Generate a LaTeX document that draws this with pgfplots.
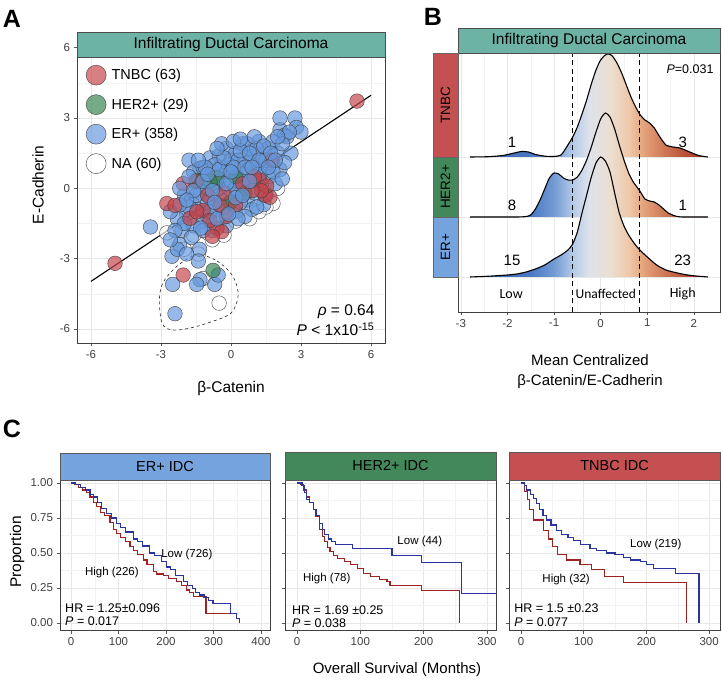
\documentclass[border=0pt]{standalone}
\usepackage{pgfplots}
\pgfplotsset{compat=1.18}
\usepackage{fontspec}
\setmainfont{Liberation Sans}
\newfontfamily\calibri{Carlito}
\newcommand{\fs}[1]{\fontsize{#1bp}{#1bp}\selectfont}

\definecolor{stripteal}{RGB}{108,178,165}
\definecolor{tnbc}{RGB}{198,66,72}
\definecolor{her}{RGB}{52,132,78}
\definecolor{erb}{RGB}{100,152,222}
\definecolor{stripred}{RGB}{196,80,82}
\definecolor{stripgreen}{RGB}{66,136,90}
\definecolor{stripblue}{RGB}{116,163,222}
\definecolor{kmblue}{RGB}{42,52,158}
\definecolor{kmred}{RGB}{158,34,34}
\definecolor{rb0}{RGB}{55,95,175}
\definecolor{rb1}{RGB}{75,120,195}
\definecolor{rb2}{RGB}{115,155,212}
\definecolor{rb3}{RGB}{180,202,232}
\definecolor{rb4}{RGB}{222,226,234}
\definecolor{rb5}{RGB}{236,222,208}
\definecolor{rb6}{RGB}{238,200,170}
\definecolor{rb7}{RGB}{228,165,125}
\definecolor{rb8}{RGB}{210,125,90}
\definecolor{rb9}{RGB}{185,80,55}
\definecolor{rb10}{RGB}{160,45,35}

\pgfdeclarehorizontalshading{ridge}{100bp}{color(0bp)=(rb0); color(25bp)=(rb0); color(37.75bp)=(rb1); color(42.65bp)=(rb2); color(46.57bp)=(rb3); color(50bp)=(rb4); color(54.41bp)=(rb5); color(58.33bp)=(rb6); color(61.27bp)=(rb7); color(65.2bp)=(rb8); color(70.1bp)=(rb9); color(75bp)=(rb10); color(100bp)=(rb10)}

\pgfplotsset{
  pt/.style={only marks, mark=*, mark size=7.3bp, mark options={fill=#1, fill opacity=0.68, draw=black!75, draw opacity=0.85, line width=0.5bp}},
  base/.style={scale only axis, grid=both,
    major grid style={black!9, line width=0.6bp},
    minor grid style={black!5, line width=0.4bp},
    axis line style={black!75, line width=0.8bp},
    tick pos=left, tick align=outside, major tick length=3.5bp, minor tick length=0pt,
    tick style={black!65, line width=0.6bp},
    ticklabel style={font=\fs{11.5}, text=black!75},
    /pgf/number format/assume math mode=true},
  km/.style={base, height=150bp, ymin=-0.05, ymax=1.021,
    ytick={0,0.25,0.5,0.75,1}, minor ytick={0.125,0.375,0.625,0.875},
    yticklabel style={/pgf/number format/.cd, fixed, fixed zerofill, precision=2}},
}

\begin{document}
\begin{tikzpicture}
\useasboundingbox (0,0) rectangle (722bp,681bp);

%%%%%%%%%%%%%%%% Panel A
\begin{axis}[base, at={(77bp,338bp)}, anchor=south west, width=308bp, height=311bp,
  xmin=-6.6, xmax=6.6, ymin=-6.6, ymax=6.67,
  xtick={-6,-3,0,3,6}, ytick={-6,-3,0,3,6},
  minor xtick={-4.5,-1.5,1.5,4.5}, minor ytick={-4.5,-1.5,1.5,4.5},
  reverse legend,
  legend cell align=left,
  legend image code/.code={\draw[#1, mark size=10bp] plot coordinates {(0bp,0bp)};},
  legend style={at={(0.029,0.894)}, anchor=north west, draw=none, fill=none,
     font=\fs{14.5}, row sep=9.5bp, column sep=4bp, inner sep=0pt, nodes={inner sep=1.5bp}},
]
\addplot[pt=white] coordinates {(-2.75,-1.9) (-1.2,-3.85) (-0.51,-4.9) (-1.0,-1.9) (1.8,-0.65) (-1.6,-2.0) (-0.8,-2.2) (0.2,-1.4) (1.5,-0.8) (-2.0,-2.6) (2.0,0.0) (0.8,-1.3) (-0.3,-2.0) (1.2,-1.0) (-1.4,-2.8)};
\addlegendentry{NA (60)}
\addplot[pt=erb] coordinates {(-3.45,-1.65) (-2.53,-2.9) (-2.2,-2.4) (-1.35,-2.6) (-1.4,-3.1) (-2.1,-1.8) (-1.9,-1.1) (-2.3,-1.3) (-2.0,-0.3) (-1.8,1.2) (-1.33,0.85) (-1.6,0.7) (-1.5,0.2) (-1.7,-0.5) (-1.4,-0.9) (-1.2,-1.4) (-1.0,-1.2) (-1.3,-0.2) (-1.1,0.4) (-1.2,0.9) (-0.9,1.3) (-0.8,0.7) (-0.7,0.1) (-0.9,-0.4) (-0.6,-0.9) (-0.4,-1.3) (-0.5,-0.3) (-0.3,0.3) (-0.4,0.9) (-0.5,1.4) (-0.2,1.7) (0,1.2) (0.1,0.6) (-0.1,0) (0.0,-0.6) (0.2,-1.0) (0.3,-0.3) (0.4,0.3) (0.3,0.9) (0.2,1.5) (0.5,1.9) (0.6,1.3) (0.7,0.7) (0.6,0.1) (0.7,-0.5) (0.9,-0.9) (1.0,-0.2) (1.0,0.4) (1.1,1.0) (0.9,1.6) (1.2,2.0) (1.3,1.4) (1.4,0.8) (1.3,0.2) (1.5,-0.3) (1.6,0.5) (1.7,1.1) (1.6,1.7) (1.8,2.0) (2.0,1.5) (2.1,0.8) (1.9,0.2) (2.1,2.5) (2.3,2.27) (2.4,2.2) (2.1,3.0) (2.74,3.0) (2.8,2.6) (3.0,2.4) (2.57,1.5) (2.3,1.1) (-0.2,-1.6) (-0.8,-1.8) (-1.6,-1.6) (-2.3,-2.6) (-1.33,-3.9) (-1.47,-4.1) (-0.7,-4.1) (-0.55,-3.7) (-2.5,-4.1) (-2.4,-5.35) (-0.6,0.4) (0.0,0.3) (0.5,0.6) (0.8,1.1) (-0.2,0.7) (0.2,0.0) (-1.0,-0.6) (-0.3,-0.8) (0.4,-0.6) (1.2,0.6) (0.7,1.9) (-0.7,1.0) (-1.5,-0.3) (-1.0,0.0) (0.9,0.3) (1.5,1.2) (-0.1,1.0) (0.3,1.2) (-1.8,-0.8) (-1.2,-1.8) (-2.0,-1.5) (-2.6,-1.0) (-2.2,-0.7) (1.1,1.7) (1.8,0.7) (-0.4,1.9) (0.1,2.0) (1.4,-0.7) (0.6,-1.2) (-0.9,-1.0)};
\addlegendentry{ER+ (358)}
\addplot[pt=her] coordinates {(-0.77,-3.5) (-1.47,0.34) (-0.6,0.47) (-0.04,-0.6) (0.2,0.5) (-0.9,0.3) (0.6,-0.2)};
\addlegendentry{HER2+ (29)}
\addplot[pt=tnbc] coordinates {(5.4,3.72) (-4.97,-3.2) (-2.05,-3.7) (-2.05,0.2) (-2.75,-0.65) (-2.4,-0.73) (-1.2,-0.94) (-0.47,-0.73) (-0.6,-1.7) (-0.4,-1.85) (1.24,0.34) (1.46,-0.3) (1.67,-0.38) (1.76,1.2) (1.53,0.1) (1.3,-0.1) (-1.76,-1.28) (-0.9,-1.37) (-1.47,-1.0) (-0.8,-2.05) (-1.0,-0.3) (0.5,0.2) (-0.3,-0.2) (1.0,0.5) (-1.5,0.3) (0.2,-0.7) (0.9,-0.1) (-0.2,-1.2)};
\addlegendentry{TNBC (63)}
\addplot[pt=erb, forget plot] coordinates {(-1.8,0.5) (-1.6,-0.1) (-1.2,0.3) (-0.8,-0.1) (-0.5,0.8) (-0.2,0.2) (0.1,0.9) (0.4,1.6) (0.8,1.5) (1.0,2.2) (1.4,1.8) (1.7,1.5) (2.2,1.9) (2.5,2.4) (0.2,-0.4) (0.5,-0.3) (-0.6,-1.3) (-1.3,-1.7) (-1.7,-2.1) (-2.4,-1.8) (-1.1,0.9) (-0.3,1.3) (0.6,0.9) (1.2,1.2) (1.9,1.2) (2.2,0.4) (1.1,-0.8) (0.3,-1.3) (-0.1,-1.1) (-0.7,-0.6) (-1.9,-0.5) (-2.2,0.0) (-1.4,1.2) (-0.6,1.7) (0.4,2.1) (0.8,0.3) (1.6,0.9) (2.0,2.2) (-2.6,-2.2) (-1.9,-2.8) (-1.0,0.6) (0.0,0.7) (0.9,0.9)};
\addplot[black, line width=1.1bp, forget plot] coordinates {(-6,-3.97) (6.0,3.97)};
\draw[dashed, black!85, line width=0.6bp] plot[smooth cycle, tension=0.6] coordinates {(axis cs:-1.37,-2.82) (axis cs:-0.6,-3.1) (axis cs:0.03,-3.68) (axis cs:0.3,-4.4) (axis cs:0.2,-5.0) (axis cs:-0.1,-5.4) (axis cs:-0.86,-5.7) (axis cs:-1.7,-5.95) (axis cs:-2.46,-6.05) (axis cs:-2.9,-5.85) (axis cs:-3.04,-5.3) (axis cs:-3.06,-4.6) (axis cs:-2.9,-4.0) (axis cs:-2.4,-3.4) (axis cs:-1.85,-3.0)};
\end{axis}
\draw[fill=stripteal, draw=black!70, line width=0.8bp] (77bp,624bp) rectangle (385bp,649bp);
\node[font=\fs{15.5}] at (231bp,636.5bp) {Infiltrating Ductal Carcinoma};
\node[font=\fs{15.5}, anchor=east] at (378bp,369bp) {\textit{ρ} = 0.64};
\node[font=\fs{15.5}, anchor=east] at (378bp,352bp) {\textit{P} < 1x10\textsuperscript{-15}};
\node[font=\fs{15.5}, rotate=90] at (38bp,496bp) {E-Cadherin};
\node[font=\fs{15.5}] at (231bp,293bp) {β-Catenin};
\node[font=\bfseries\fs{25}] at (12bp,662bp) {A};

%%%%%%%%%%%%%%%% Panel B
\begin{axis}[base, at={(458bp,369bp)}, anchor=south west, width=262bp, height=259bp,
  xmin=-3.06, xmax=2.56, ymin=0, ymax=259,
  xtick={-3,-2,-1,0,1,2}, minor xtick={-2.5,-1.5,-0.5,0.5,1.5},
  ytick={35,95,155}, yticklabels={}, ytick style={draw=none},
]
% TNBC ridge (baseline 155)
\addplot[draw=none, shade, shading=ridge] coordinates {(-2.8,155) (-2.4,155.3) (-2.1,156.5) (-1.9,158.5) (-1.7,160.5) (-1.55,160) (-1.4,157.5) (-1.2,155.8) (-1.0,155.5) (-0.85,157) (-0.73,165) (-0.6,175) (-0.5,185) (-0.4,198) (-0.3,212) (-0.2,228) (-0.1,242) (0.0,252) (0.1,257) (0.17,258) (0.25,256) (0.35,249) (0.45,239) (0.55,227) (0.65,215) (0.75,205) (0.85,197) (0.95,192) (1.05,189) (1.15,184) (1.27,175) (1.4,167) (1.55,165) (1.7,164) (1.91,160) (2.1,156.5) (2.3,155)};
\addplot[black, line width=1.1bp, smooth, tension=0.4] coordinates {(-2.8,155) (-2.4,155.3) (-2.1,156.5) (-1.9,158.5) (-1.7,160.5) (-1.55,160) (-1.4,157.5) (-1.2,155.8) (-1.0,155.5) (-0.85,157) (-0.73,165) (-0.6,175) (-0.5,185) (-0.4,198) (-0.3,212) (-0.2,228) (-0.1,242) (0.0,252) (0.1,257) (0.17,258) (0.25,256) (0.35,249) (0.45,239) (0.55,227) (0.65,215) (0.75,205) (0.85,197) (0.95,192) (1.05,189) (1.15,184) (1.27,175) (1.4,167) (1.55,165) (1.7,164) (1.91,160) (2.1,156.5) (2.3,155)};
% HER2+ ridge (baseline 95)
\addplot[draw=none, shade, shading=ridge] coordinates {(-2.8,95) (-1.8,95) (-1.6,95.5) (-1.5,97) (-1.4,103) (-1.3,112) (-1.2,123) (-1.1,134) (-1.0,139) (-0.9,138) (-0.8,134) (-0.7,132) (-0.6,132) (-0.5,135) (-0.4,142) (-0.3,152) (-0.2,165) (-0.1,180) (0.0,193) (0.1,199) (0.2,195) (0.3,183) (0.4,167) (0.5,152) (0.6,139) (0.7,130) (0.84,121) (0.95,113) (1.05,111) (1.15,110) (1.25,107) (1.35,103) (1.45,99) (1.6,96) (1.75,95) (2.3,95)};
\addplot[black, line width=1.1bp, smooth, tension=0.4] coordinates {(-2.8,95) (-1.8,95) (-1.6,95.5) (-1.5,97) (-1.4,103) (-1.3,112) (-1.2,123) (-1.1,134) (-1.0,139) (-0.9,138) (-0.8,134) (-0.7,132) (-0.6,132) (-0.5,135) (-0.4,142) (-0.3,152) (-0.2,165) (-0.1,180) (0.0,193) (0.1,199) (0.2,195) (0.3,183) (0.4,167) (0.5,152) (0.6,139) (0.7,130) (0.84,121) (0.95,113) (1.05,111) (1.15,110) (1.25,107) (1.35,103) (1.45,99) (1.6,96) (1.75,95) (2.3,95)};
% ER+ ridge (baseline 35)
\addplot[draw=none, shade, shading=ridge] coordinates {(-2.8,35) (-2.4,35.8) (-2.0,37) (-1.8,38) (-1.6,40) (-1.4,43) (-1.2,47) (-1.0,53) (-0.85,57) (-0.7,62) (-0.6,68) (-0.5,80) (-0.4,99) (-0.3,117) (-0.2,135) (-0.1,149) (0.0,155) (0.1,151) (0.2,140) (0.3,119) (0.4,99) (0.5,86) (0.6,77) (0.73,68) (0.84,62) (1.0,55) (1.2,47) (1.4,42) (1.6,39.5) (1.8,37.5) (2.0,36.2) (2.3,35)};
\addplot[black, line width=1.1bp, smooth, tension=0.4] coordinates {(-2.8,35) (-2.4,35.8) (-2.0,37) (-1.8,38) (-1.6,40) (-1.4,43) (-1.2,47) (-1.0,53) (-0.85,57) (-0.7,62) (-0.6,68) (-0.5,80) (-0.4,99) (-0.3,117) (-0.2,135) (-0.1,149) (0.0,155) (0.1,151) (0.2,140) (0.3,119) (0.4,99) (0.5,86) (0.6,77) (0.73,68) (0.84,62) (1.0,55) (1.2,47) (1.4,42) (1.6,39.5) (1.8,37.5) (2.0,36.2) (2.3,35)};
\addplot[black, line width=1.2bp, dash pattern=on 5bp off 3.5bp] coordinates {(-0.6,0) (-0.6,259)};
\addplot[black, line width=1.2bp, dash pattern=on 5bp off 3.5bp] coordinates {(0.84,0) (0.84,259)};
\node[font=\fs{15}] at (axis cs:-1.9,170) {1};
\node[font=\fs{15}] at (axis cs:1.76,170) {3};
\node[font=\fs{15}] at (axis cs:-1.9,107) {8};
\node[font=\fs{15}] at (axis cs:1.76,107) {1};
\node[font=\fs{15}] at (axis cs:-1.9,52) {15};
\node[font=\fs{15}] at (axis cs:1.76,52) {23};
\node[font=\calibri\fs{14}] at (axis cs:-1.92,18) {Low};
\node[font=\calibri\fs{13.5}] at (axis cs:0.11,18) {Unaffected};
\node[font=\calibri\fs{14}] at (axis cs:1.76,18) {High};
\end{axis}
\draw[fill=stripteal, draw=black!70, line width=0.8bp] (458bp,628bp) rectangle (720bp,653bp);
\node[font=\fs{15.5}] at (589bp,640.5bp) {Infiltrating Ductal Carcinoma};
\draw[fill=stripred, draw=black!60, line width=0.6bp] (433bp,524bp) rectangle (458bp,628bp);
\draw[fill=stripgreen, draw=black!60, line width=0.6bp] (433bp,464bp) rectangle (458bp,524bp);
\draw[fill=stripblue, draw=black!60, line width=0.6bp] (433bp,404bp) rectangle (458bp,464bp);
\node[font=\fs{13.5}, rotate=90] at (445.5bp,576bp) {TNBC};
\node[font=\fs{13.5}, rotate=90] at (445.5bp,494bp) {HER2+};
\node[font=\fs{13.5}, rotate=90] at (445.5bp,434bp) {ER+};
\node[font=\fs{12.5}] at (690bp,612bp) {\textit{P}=0.031};
\node[font=\fs{15}] at (590bp,321bp) {Mean Centralized};
\node[font=\fs{15}] at (590bp,299bp) {β-Catenin/E-Cadherin};
\node[font=\bfseries\fs{25}] at (433bp,664bp) {B};

%%%%%%%%%%%%%%%% Panel C
\begin{axis}[km, at={(60bp,51bp)}, anchor=south west, width=210bp,
  xmin=-23.2, xmax=418.9, xtick={0,100,200,300,400}, minor xtick={50,150,250,350}]
\addplot[const plot, kmred, line width=1.2bp] coordinates {(0,1) (8,0.99) (15,0.97) (25,0.95) (33,0.93) (40,0.9) (48,0.86) (54,0.83) (62,0.79) (70,0.77) (82,0.72) (90,0.67) (96,0.64) (105,0.61) (115,0.58) (124,0.545) (132,0.52) (140,0.49) (152,0.45) (160,0.42) (173,0.37) (180,0.35) (194,0.34) (205,0.32) (222,0.295) (232,0.27) (243,0.236) (250,0.215) (257,0.19) (284,0.07) (335,0.07)};
\addplot[const plot, kmblue, line width=1.2bp] coordinates {(0,1) (10,0.99) (20,0.97) (30,0.95) (40,0.92) (47,0.9) (55,0.86) (65,0.82) (75,0.78) (85,0.75) (96,0.71) (105,0.68) (115,0.65) (131,0.6) (140,0.58) (150,0.55) (166,0.5) (175,0.48) (190,0.44) (201,0.4) (210,0.38) (220,0.34) (236,0.295) (245,0.27) (255,0.245) (262,0.22) (271,0.2) (280,0.18) (290,0.16) (299,0.14) (335,0.07) (349,0.03) (355,0.01) (355,0)};
\node[font=\fs{11.5}] at (axis cs:244,0.49) {Low (726)};
\node[font=\fs{11.5}] at (axis cs:86,0.36) {High (226)};
\node[font=\fs{12.5}, anchor=west, inner sep=0pt] at (axis cs:-12.6,0.107) {HR = 1.25±0.096};
\node[font=\fs{12.5}, anchor=west, inner sep=0pt] at (axis cs:-12.6,0.014) {\textit{P} = 0.017};
\end{axis}
\draw[fill=stripblue, draw=black!65, line width=0.7bp] (60bp,201bp) rectangle (270bp,228bp);
\node[font=\fs{14.5}] at (165bp,214.5bp) {ER+ IDC};

\begin{axis}[km, at={(285bp,51bp)}, anchor=south west, width=211bp, yticklabels={},
  xmin=-19, xmax=314.3, xtick={0,100,200,300}, minor xtick={50,150,250}]
\addplot[const plot, kmred, line width=1.2bp] coordinates {(0,1) (5,0.99) (10,0.95) (15,0.9) (20,0.86) (26,0.81) (30,0.76) (36,0.67) (40,0.62) (44,0.58) (48,0.54) (52,0.51) (58,0.48) (64,0.46) (75,0.44) (84,0.415) (95,0.39) (105,0.355) (116,0.33) (130,0.31) (142,0.295) (147,0.27) (197,0.23) (257,0)};
\addplot[const plot, kmblue, line width=1.2bp] coordinates {(0,1) (8,0.98) (12,0.93) (15,0.88) (20,0.86) (26,0.81) (30,0.77) (36,0.71) (40,0.67) (44,0.63) (50,0.6) (55,0.58) (61,0.56) (87,0.53) (150,0.48) (197,0.43) (260,0.21) (314.3,0.21)};
\node[font=\fs{11.5}] at (axis cs:194,0.58) {Low (44)};
\node[font=\fs{11.5}] at (axis cs:47,0.32) {High (78)};
\node[font=\fs{12.5}, anchor=west, inner sep=0pt] at (axis cs:-8,0.093) {HR = 1.69 ±0.25};
\node[font=\fs{12.5}, anchor=west, inner sep=0pt] at (axis cs:-8,0.0) {\textit{P} = 0.038};
\end{axis}
\draw[fill=stripgreen, draw=black!65, line width=0.7bp] (285bp,201bp) rectangle (496bp,229bp);
\node[font=\fs{14.5}] at (390.5bp,215bp) {HER2+ IDC};

\begin{axis}[km, at={(509bp,51bp)}, anchor=south west, width=211bp, yticklabels={},
  xmin=-19.1, xmax=317.4, xtick={0,100,200,300}, minor xtick={50,150,250}]
\addplot[const plot, kmred, line width=1.2bp] coordinates {(0,1) (6,0.94) (10,0.88) (14,0.81) (20,0.735) (36,0.66) (44,0.6) (50,0.545) (58,0.49) (73,0.45) (94,0.415) (112,0.38) (133,0.33) (163,0.29) (264,0)};
\addplot[const plot, kmblue, line width=1.2bp] coordinates {(0,1) (5,0.98) (9,0.95) (15,0.92) (20,0.89) (25,0.855) (30,0.81) (35,0.77) (41,0.735) (48,0.7) (57,0.66) (65,0.63) (75,0.61) (84,0.59) (95,0.56) (110,0.53) (120,0.52) (137,0.5) (150,0.49) (163,0.47) (175,0.45) (190,0.44) (200,0.42) (211,0.39) (246,0.355) (284,0)};
\node[font=\fs{11.5}] at (axis cs:215,0.557) {Low (219)};
\node[font=\fs{11.5}] at (axis cs:72,0.307) {High (32)};
\node[font=\fs{12.5}, anchor=west, inner sep=0pt] at (axis cs:-11,0.107) {HR = 1.5 ±0.23};
\node[font=\fs{12.5}, anchor=west, inner sep=0pt] at (axis cs:-11,0.007) {\textit{P} = 0.077};
\end{axis}
\draw[fill=stripred, draw=black!65, line width=0.7bp] (509bp,201bp) rectangle (720bp,229bp);
\node[font=\fs{14.5}] at (614.5bp,215bp) {TNBC IDC};

\node[font=\fs{15.5}, rotate=90] at (17bp,129bp) {Proportion};
\node[font=\fs{15}] at (397bp,11bp) {Overall Survival (Months)};
\node[font=\bfseries\fs{25}] at (12bp,252bp) {C};
\end{tikzpicture}
\end{document}
